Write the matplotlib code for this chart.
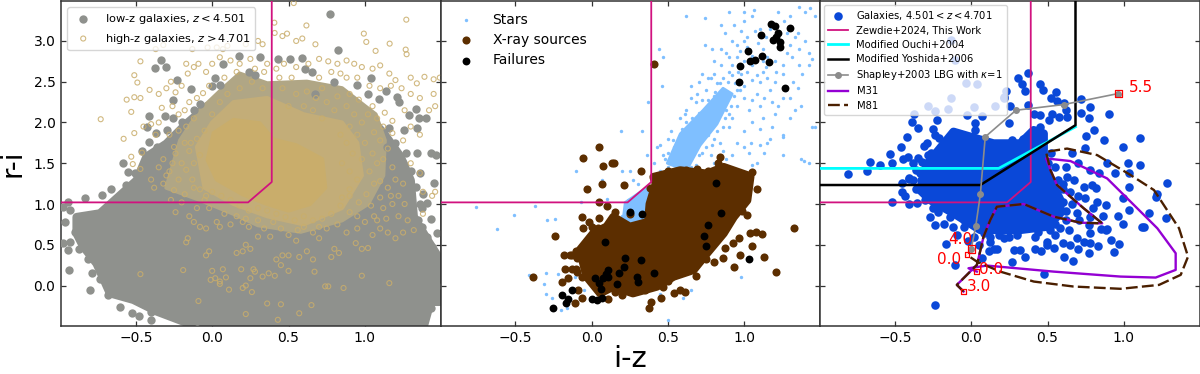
import numpy as np
import matplotlib
matplotlib.use("Agg")
import matplotlib.pyplot as plt

XLIM = (-0.99, 1.495)
YLIM = (-0.49, 3.49)
SEL_X = [-0.99, 0.235, 0.39, 0.39]
SEL_Y = [1.02, 1.02, 1.27, 3.5]

# ---- panel 1: low-z galaxies (dense region envelope + individually read points)
low_env = [(-0.888,0.84),(-0.735,0.885),(-0.637,1.05),(-0.495,1.29),(-0.43,1.58),(-0.30,1.74),(-0.166,1.99),
           (-0.035,2.2),(0.14,2.3),(0.36,2.3),(0.58,2.25),(0.80,2.2),(1.015,2.1),(1.125,1.865),(1.234,1.58),
           (1.30,1.29),(1.32,0.845),(1.41,0.56),(1.495,0.31),(1.495,-0.2),(1.43,-0.2),(1.387,-0.49),(-0.12,-0.49),
           (-0.36,-0.32),(-0.516,-0.175),(-0.67,-0.094),(-0.757,0.27),(-0.845,0.48),(-0.888,0.64)]
low_pts = [(0.77,3.335),(0.823,2.885),(-0.374,2.673),(-0.335,2.77),(-0.30,2.68),(-0.228,2.52),(-0.138,2.41),(-0.254,2.28),
           (-0.08,2.23),(-0.414,2.08),(-0.429,1.947),(-0.368,1.873),(-0.298,1.906),(-0.309,2.08),(-0.254,2.06),(-0.414,1.763),
           (-0.582,1.498),(-0.55,1.396),(-0.505,1.384),(-0.565,1.233),(-0.663,1.184),(-0.724,1.11),(-0.834,1.069),(-0.947,1.029),
           (-0.976,0.967),(-0.932,0.927),(-0.965,0.784),(-0.90,0.661),(-0.932,0.539),(-0.976,0.518),(-0.947,0.437),(-0.871,0.445),
           (-0.937,0.192),(-0.812,0.322),(-0.79,0.159),(-0.735,0.078),(-0.80,-0.053),(-0.68,-0.114),(-0.604,-0.265),(-0.527,-0.339),
           (-0.477,-0.371),(-0.403,-0.33),(-0.403,-0.42),(-0.10,-0.44),(0.173,2.81),(0.31,2.80),(0.43,2.78),(0.51,2.78),(0.59,2.795),
           (0.074,2.72),(0.02,2.54),(0.053,2.457),(-0.002,2.445),(0.238,2.62),(0.282,2.58),(0.61,2.66),(0.654,2.62),(0.676,2.355),
           (0.797,2.498),(0.95,2.457),(1.037,2.54),(1.021,2.355),(1.136,2.388),(1.09,2.294),(1.212,2.314),(1.223,2.253),(1.333,2.171),
           (1.289,2.09),(1.354,2.049),(1.398,2.049),(1.256,1.906),(1.344,1.927),(1.157,1.927),(1.147,1.70),(1.267,1.63),(1.344,1.62),
           (1.431,1.62),(1.464,1.6),(1.361,1.384),(1.453,1.26),(1.333,1.212),(1.383,1.122),(1.409,1.016),(1.372,0.947),(1.431,0.812),
           (1.376,0.722),(1.409,0.6),(1.475,0.64),(1.442,0.478),(1.431,-0.278),(-0.46,1.65),(-0.42,1.55),(-0.36,1.7),(-0.2,2.0),
           (-0.12,2.15),(1.2,1.75),(1.25,1.5),(1.3,1.4),(1.36,1.0),(1.35,0.8),(1.45,0.1),(1.47,0.0),(1.44,0.3)]

# ---- panel 1: high-z galaxies
high_core = [(0.01,1.87),(0.14,2.03),(0.31,1.99),(0.40,1.79),(0.55,1.72),(0.72,1.55),(0.74,1.2),(0.64,1.0),(0.5,0.92),
             (0.36,1.0),(0.20,1.12),(0.03,1.30),(-0.03,1.54)]
high_mid = [(-0.1,1.7),(0.0,2.0),(0.14,2.25),(0.36,2.3),(0.6,2.1),(0.85,2.0),(0.95,1.75),(0.98,1.35),(0.85,0.95),(0.6,0.75),
            (0.36,0.85),(0.14,1.0),(-0.05,1.2)]
high_out = [(-0.21,1.78),(-0.08,2.15),(0.06,2.4),(0.18,2.6),(0.36,2.48),(0.62,2.5),(0.85,2.42),(1.0,2.2),(1.07,2.1),(1.13,1.78),(1.12,1.35),
            (1.02,1.0),(0.85,0.8),(0.58,0.66),(0.3,0.74),(0.14,0.88),(-0.08,1.05),(-0.3,1.2)]
high_pts = [(0.534,3.465),(1.271,3.261),(0.617,3.19),(0.407,3.224),(0.993,3.09),(0.409,3.098),(1.009,2.988),(1.162,2.967),(1.267,2.894),
            (1.273,2.837),(1.07,2.878),(0.676,2.959),(0.59,3.03),(0.55,3.0),(0.46,3.06),(0.49,3.09),(0.3,3.0),(0.33,2.96),(0.22,2.96),
            (0.1,2.94),(0.07,2.9),(0.03,2.92),(-0.03,2.92),(-0.13,2.9),(-0.37,2.9),(-0.32,2.95),(-0.47,2.75),(-0.51,2.58),(-0.49,2.49),
            (-0.41,2.4),(-0.56,2.28),(-0.51,2.31),(-0.47,2.3),(-0.53,2.13),(-0.73,2.04),(-0.35,2.35),(-0.3,2.42),(-0.27,2.5),(-0.24,2.37),
            (-0.2,2.45),(-0.16,2.6),(-0.17,2.72),(-0.12,2.68),(-0.09,2.72),(-0.04,2.62),(0.0,2.72),(0.05,2.8),(0.12,2.76),(0.18,2.72),
            (0.25,2.78),(0.36,2.72),(0.42,2.66),(0.47,2.72),(0.55,2.68),(0.63,2.72),(0.7,2.78),(0.76,2.75),(0.82,2.72),(0.88,2.76),
            (0.93,2.72),(0.98,2.68),(1.05,2.66),(1.1,2.7),(1.16,2.6),(1.2,2.52),(1.3,2.55),(1.39,2.56),(1.34,2.48),(1.45,2.53),(1.49,2.55),
            (1.45,2.35),(1.46,2.2),(1.42,2.15),(1.36,2.3),(1.3,2.35),(1.24,2.42),(1.17,2.45),(1.1,2.42),(1.03,2.45),(0.95,2.55),(0.88,2.55),
            (0.84,2.6),(0.78,2.62),(0.7,2.55),(0.72,2.42),(0.82,2.32),(0.9,2.35),(0.96,2.28),(1.05,2.2),(1.13,2.12),(1.18,2.02),(1.26,2.15),
            (1.3,1.95),(1.36,1.85),(1.25,1.78),(1.18,1.87),(1.12,1.95),(1.08,2.05),(1.02,2.1),(-0.58,1.8),(-0.51,1.87),(-0.46,1.63),
            (-0.53,1.58),(-0.52,1.49),(-0.47,1.43),(-0.45,1.95),(-0.4,1.98),(-0.37,1.85),(-0.35,2.0),(-0.33,2.18),(-0.26,2.2),(-0.22,2.1),
            (-0.18,2.15),(-0.15,2.25),(-0.1,2.3),(-0.06,2.36),(-0.02,2.45),(0.08,2.55),(0.16,2.62),(0.28,2.66),(0.34,2.62),(0.44,2.55),(0.52,2.55),
            (-0.28,1.85),(-0.22,1.9),(-0.17,1.95),(-0.12,2.05),(-0.25,1.7),(-0.32,1.55),(-0.28,1.4),(-0.22,1.3),(-0.2,1.5),(-0.15,1.65),(-0.1,1.8),
            (-0.32,1.25),(-0.25,1.17),(-0.18,1.12),(-0.12,1.2),(-0.05,1.05),(-0.24,0.9),(-0.15,0.85),(-0.12,0.78),(-0.08,0.72),(-0.04,0.7),
            (0.03,0.78),(0.05,0.72),(0.12,0.75),(0.08,0.88),(0.16,0.85),(0.2,0.78),(0.24,0.72),(0.3,0.6),(0.34,0.7),(0.4,0.78),(0.45,0.7),
            (0.38,0.6),(0.5,0.62),(0.55,0.55),(0.6,0.72),(0.66,0.65),(0.7,0.58),(0.75,0.7),(0.82,0.75),(0.88,0.65),(0.95,0.7),(1.0,0.78),
            (1.05,0.62),(1.1,0.7),(1.15,0.65),(1.2,0.58),(1.25,0.65),(1.28,0.8),(1.32,0.68),(1.38,0.88),(1.06,0.85),(1.12,0.95),(1.18,1.0),
            (1.22,1.1),(1.15,1.2),(1.1,1.28),(1.2,1.3),(1.25,1.25),(1.38,1.15),(1.44,1.1),(1.46,1.15),(1.36,1.38),(1.3,1.5),(1.18,1.45),
            (-0.16,0.58),(-0.17,0.53),(-0.02,0.42),(-0.04,0.37),(0.22,0.5),(0.25,0.45),(0.2,0.42),(0.16,0.4),(0.46,0.37),(0.5,0.37),(0.42,0.32),
            (0.57,0.35),(0.62,0.42),(0.66,0.32),(0.8,0.45),(0.83,0.4),(0.78,0.35),(0.94,0.52),(0.98,0.45),(1.02,0.46),(-0.47,0.14),(-0.19,0.19),
            (0.0,0.18),(0.07,0.2),(0.02,0.09),(0.05,0.05),(0.09,0.1),(-0.01,0.07),(0.05,0.02),(0.11,-0.05),(0.19,0.2),(0.25,0.09),(0.28,0.17),
            (0.27,0.2),(0.33,0.11),(0.41,0.12),(0.37,0.15),(0.45,0.25),(0.5,0.18),(0.67,0.17),(0.98,0.12),(1.16,0.03),(0.74,-0.01),(0.76,-0.01),
            (0.86,-0.03),(0.22,0.0),(0.2,-0.03),(0.26,-0.08),(-0.09,-0.19),(0.36,-0.22),(0.45,-0.23),(0.65,-0.24),(0.43,-0.42),(0.22,-0.35),(0.57,-0.34),
            # ring around the dense centre
            (0.9,1.95),(0.95,1.85),(1.0,1.75),(1.05,1.62),(1.08,1.5),(1.03,1.4),(1.06,1.25),(1.01,1.12),(0.96,1.02),(0.9,0.9),(0.84,0.98),(0.78,0.88),
            (0.72,0.82),(0.66,0.8),(0.6,0.85),(0.54,0.8),(0.48,0.84),(0.42,0.88),(0.36,0.92),(0.3,0.95),(0.24,0.92),(0.18,0.98),(0.12,1.05),(0.06,1.1),
            (0.0,1.15),(-0.04,1.1),(-0.08,1.18),(-0.13,1.3),(-0.17,1.42),(-0.12,1.5),(-0.08,1.6),(-0.14,1.75),(-0.05,1.9),(0.0,2.1),(0.05,2.25),(0.1,2.35),
            (0.18,2.42),(0.26,2.5),(0.33,2.42),(0.46,2.42),(0.55,2.35),(0.62,2.38),(0.68,2.3),(0.75,2.25),(0.8,2.15),(0.88,2.2),(0.93,2.1),(0.98,2.0),
            (0.72,2.05),(0.66,2.15),(0.6,2.2),(0.5,2.2),(0.84,1.85),(0.88,1.75),(0.92,1.62),(0.98,1.55),(0.85,1.5),(0.9,1.4),(0.95,1.3),(0.9,1.18),(0.85,1.08),
            (1.12,1.55),(1.15,1.68),(1.1,1.78),(1.06,1.88),(0.9,1.1),(1.04,0.98),(1.1,1.08),(0.95,0.85),(0.7,0.72),(0.56,0.68),(0.3,0.8),(0.22,0.82),(-0.02,0.95),(-0.1,0.95),
            (-0.2,1.02),(-0.27,1.05),(-0.3,1.35),(-0.26,1.5),(-0.24,1.62),(-0.18,1.75),(-0.35,1.45),(-0.4,1.3),(-0.38,1.2),(1.17,1.1),(1.26,1.0),(1.22,0.85),(1.14,0.82),(1.08,0.8)]

# ---- panel 2
star_band = [(0.495,1.5),(0.58,1.86),(0.73,2.15),(0.86,2.42),(0.92,2.35),(0.82,1.98),(0.71,1.72),(0.62,1.41)]
star_low = [(0.2,0.72),(0.22,1.02),(0.36,1.2),(0.42,1.0),(0.4,0.75)]
star_pts = [(-0.76,0.96),(-0.62,0.69),(-0.51,0.86),(-0.37,0.98),(-0.29,0.8),(-0.24,0.82),(-0.41,0.13),(-0.31,0.02),(-0.3,-0.1),(-0.26,-0.15),
            (-0.3,0.15),(-0.22,0.14),(-0.2,-0.1),(-0.07,1.02),(-0.1,1.4),(0.1,1.06),(0.07,1.3),(0.2,1.4),(0.25,1.4),(0.27,1.3),(0.19,1.9),(0.33,1.9),
            (0.43,1.7),(0.45,1.72),(0.37,2.25),(0.47,2.8),(0.44,2.9),(0.46,2.45),(0.5,1.45),(0.45,1.4),(0.36,1.6),(0.41,1.5),(0.47,1.6),(0.54,1.7),
            (0.56,1.75),(0.58,2.05),(0.61,2.1),(0.62,2.0),(0.65,2.3),(0.69,2.35),(0.75,2.4),(0.74,2.15),(0.76,2.55),(0.8,2.6),(0.85,2.7),(0.86,2.55),
            (0.82,2.48),(0.9,2.62),(0.92,2.7),(0.95,2.8),(0.98,2.5),(1.0,2.45),(1.02,2.62),(1.05,2.7),(1.08,2.58),(1.1,2.5),(1.12,2.62),(1.15,2.55),
            (1.17,2.4),(1.2,2.5),(1.25,2.6),(1.32,2.5),(1.35,2.42),(1.3,2.3),(1.37,2.2),(1.22,2.2),(1.18,2.25),(1.1,2.2),(1.05,2.28),(1.0,2.3),
            (0.95,2.2),(0.92,2.05),(0.9,1.95),(1.0,1.9),(1.05,2.0),(1.12,2.05),(1.18,1.95),(1.25,1.85),(1.3,2.05),(1.25,1.82),(1.44,1.95),(1.46,1.95),
            (0.95,1.75),(1.0,1.7),(0.92,1.6),(1.1,1.72),(1.17,1.8),(1.08,1.5),(1.13,1.62),(1.25,1.6),(1.37,1.55),(1.39,1.53),(1.42,1.5),(0.88,1.55),
            (0.78,1.6),(0.84,1.75),(0.76,1.85),(0.68,2.0),(0.6,1.4),(0.65,2.45),(0.72,2.6),(0.79,2.9),(0.87,3.1),(0.74,3.28),(0.62,3.3),(0.74,2.95),
            (0.85,3.2),(0.93,3.2),(0.98,3.12),(1.0,3.25),(1.02,3.05),(1.05,3.3),(1.0,3.35),(1.1,3.15),(1.14,3.05),(1.12,2.9),(1.17,3.15),(1.28,3.1),
            (1.33,3.05),(1.4,3.0),(1.42,2.85),(1.36,2.9),(1.31,2.8),(1.36,2.7),(1.42,2.7),(1.44,2.78),(1.3,3.3),(1.36,3.42),(1.4,3.35),(1.43,3.4),(1.46,3.3),
            (1.26,3.25),(1.22,3.35),(1.06,3.38),(0.9,3.35),(1.09,2.98),(1.02,2.92),(0.95,2.95),(0.88,2.85),(0.8,2.75),(0.9,2.8),(0.85,2.9),(0.97,2.88),
            (1.0,2.75),(1.05,2.82),(1.15,2.8),(1.2,2.75),(1.25,2.7),(1.12,2.75),(0.7,2.5),(0.78,2.55),(0.82,2.25),(0.85,2.2),(0.95,2.4),(0.98,2.6),
            (0.5,1.8),(0.52,1.9),(0.55,1.6),(0.6,1.85),(0.63,1.95),(0.68,2.25),(0.72,2.28),(0.7,1.6),(0.75,1.7),(0.8,1.8),(0.82,2.05),(0.88,2.15),
            (0.3,1.25),(0.3,1.1),(0.34,1.15),(0.24,1.05),(0.22,0.95),(0.2,0.85),(0.27,0.95),(0.42,1.1),(0.0,0.75),(0.05,0.6),(0.1,0.62),(0.14,0.65),
            (-0.13,0.2),(-0.11,0.1),(-0.05,-0.05),(0.0,0.15),(0.06,0.2),(0.45,-0.1),(0.5,-0.42),(0.98,0.11),(0.65,-0.05),(0.6,-0.15),(-0.2,-0.3),(-0.16,-0.28),
            # fuzz along the stellar locus
            (0.48,1.55),(0.52,1.55),(0.53,1.78),(0.57,1.68),(0.59,1.92),(0.64,1.55),(0.66,1.62),(0.67,1.75),(0.66,2.05),(0.7,2.12),(0.71,2.05),(0.74,1.85),(0.77,1.92),
            (0.78,2.22),(0.76,2.28),(0.8,2.32),(0.81,2.38),(0.84,2.1),(0.87,2.05),(0.9,2.1),(0.91,2.2),(0.93,2.32),(0.94,2.48),(0.89,2.5),(0.84,2.48),(0.92,2.58),(0.97,2.4),
            (0.86,1.95),(0.82,1.9),(0.79,1.72),(0.72,1.62),(0.68,1.48),(0.65,1.46),(0.58,1.52),(0.6,1.62),(0.5,1.62),(0.62,2.15),(0.86,1.65),(0.8,1.5),(1.05,1.48),(1.03,1.62),
            (1.04,1.75),(1.1,1.92),(1.15,1.75),(1.2,2.1),(1.03,2.15),(1.08,2.35),(1.13,2.3),(1.27,2.4),(1.25,2.3),(1.33,2.15),(1.38,2.6),(1.05,2.52),(1.14,2.68),(1.21,2.62),(1.28,2.85),
            (1.35,3.1),(1.3,2.95),(1.07,3.12),(1.0,3.0),(0.92,3.0),(0.96,2.62)]
xray_env = [(-0.077,0.437),(0.011,0.641),(0.098,0.722),(0.142,0.841),(0.25,0.72),(0.37,0.78),(0.38,1.0),(0.42,1.25),(0.405,1.331),(0.58,1.412),(0.755,1.371),
            (0.864,1.453),(1.039,1.339),(1.018,1.045),(0.93,0.841),(0.864,0.641),(0.755,0.396),(0.667,0.192),(0.536,0.11),(0.427,-0.012),(0.27,-0.094),
            (0.142,-0.012),(0.055,-0.094),(-0.033,0.11),(-0.055,0.273)]
xray_pts = [(0.411,2.722),(0.046,1.694),(-0.055,1.563),(0.072,1.465),(0.131,1.498),(0.147,1.498),(0.324,1.4),(0.07,1.241),(-0.031,1.184),(0.21,1.233),
            (0.05,1.029),(0.098,0.98),(-0.066,0.841),(-0.018,0.784),(0.046,0.824),(-0.055,0.702),(0.0,0.722),(-0.241,0.612),(-0.387,0.102),(1.324,0.71),
            (0.842,1.58),(0.825,1.498),(1.053,1.388),(1.085,1.18),(0.985,0.918),(1.018,0.865),(1.039,0.641),(1.077,0.661),(1.116,0.633),(0.963,0.588),
            (0.923,0.527),(1.053,0.49),(0.974,0.376),(1.127,0.347),(0.86,0.335),(0.799,0.286),(0.93,0.233),(1.204,0.171),(0.875,0.457),(-0.181,0.375),
            (-0.131,0.375),(-0.098,0.335),(-0.175,0.2),(-0.131,0.2),(-0.098,0.171),(-0.197,0.049),(-0.153,0.09),(-0.066,0.11),(-0.088,-0.053),(-0.066,-0.155),
            (-0.109,-0.216),(0.109,-0.163),(0.197,-0.114),(0.269,-0.073),(0.376,-0.278),(0.387,-0.196),(0.455,-0.147),(0.536,-0.094),(0.575,-0.053),(0.613,-0.082),
            (0.47,-0.012),(0.62,1.42),(0.5,1.4),(0.69,1.43),(0.76,1.4),(0.96,1.36),(0.98,1.25),(1.0,1.12),(0.88,0.72),(0.75,0.33),(0.7,0.3),(0.62,0.22),(0.5,0.05),
            (0.38,0.05),(0.3,-0.02),(0.2,0.02),(0.43,1.25),(0.38,1.2),(0.0,0.55),(0.05,0.4),(-0.02,0.35),(-0.03,0.2),(0.12,0.72),(0.15,0.9),(0.25,0.88),
            (0.92,1.18),(0.88,0.95),(0.8,0.72),(0.72,0.55),(0.6,0.33),(0.68,0.12),(0.58,0.15),(0.45,0.02),(0.35,-0.06),(0.15,-0.08),(0.08,-0.02),(0.02,0.02),
            (-0.1,0.42),(-0.14,0.38),(-0.06,0.33),(-0.1,0.2),(-0.01,0.1),(0.02,0.62),(0.08,0.65),(0.04,0.7),(1.0,1.25),(1.02,1.18),(0.95,1.05),(0.9,1.0),(0.82,0.82)]
fail_pts = [(1.171,3.212),(1.199,3.18),(1.298,3.163),(1.111,3.073),(1.221,3.102),(1.21,3.049),(1.188,3.008),(1.236,2.988),(1.23,2.927),(1.026,2.882),
            (1.116,2.812),(1.039,2.751),(1.072,2.763),(1.16,2.739),(0.974,2.698),(0.967,2.498),(1.267,2.425),(0.812,1.253),(0.251,0.898),(0.33,0.878),
            (0.845,0.886),(0.759,0.743),(0.733,0.612),(0.748,0.486),(0.088,0.539),(0.221,0.335),(0.324,0.314),(1.033,0.322),(0.21,0.233),(0.18,0.151),
            (0.11,0.192),(0.094,0.143),(0.11,0.102),(0.022,0.09),(0.077,0.09),(0.05,0.029),(0.061,-0.045),(0.164,0.02),(0.295,0.102),(0.306,0.049),
            (0.405,0.151),(-0.131,-0.053),(-0.193,-0.122),(-0.153,-0.163),(-0.171,-0.208),(-0.252,-0.278),(0.0,-0.163),(0.033,-0.176),(0.066,-0.147)]

# ---- panel 3
gal_env = [(-0.291,1.486),(-0.116,1.886),(0.146,1.743),(0.321,1.743),(0.409,1.906),(0.475,1.865),(0.475,1.547),(0.519,1.294),(0.584,1.049),(0.584,0.886),
           (0.497,0.722),(0.322,0.682),(0.059,0.682),(-0.116,0.886),(-0.269,1.049),(-0.335,1.171)]
gal_pts = [(0.37,2.612),(0.304,2.547),(0.333,2.478),(0.449,2.478),(0.471,2.404),(0.354,2.388),(0.558,2.38),(0.228,2.388),(0.217,2.306),(0.525,2.298),
           (0.562,2.265),(0.72,2.294),(0.606,2.233),(0.37,2.22),(0.256,2.208),(0.781,2.192),(0.624,2.159),(0.72,2.118),(0.902,2.098),(0.53,2.098),(0.453,2.09),
           (0.409,2.11),(0.573,2.069),(0.628,2.069),(0.508,2.029),(0.77,2.049),(0.245,1.996),(-0.028,2.09),(0.07,2.082),(-0.374,2.102),(-0.225,2.029),(-0.39,2.008),
           (0.026,1.996),(-0.346,1.927),(-0.252,1.914),(-0.236,1.845),(-0.214,1.804),(-0.418,1.824),(0.026,1.906),(0.803,1.906),(0.755,1.837),(0.869,1.784),
           (1.105,1.804),(0.996,1.702),(-0.291,1.743),(-0.46,1.694),(-0.532,1.608),(-0.31,1.71),(-0.663,1.514),(-0.597,1.478),(-0.521,1.506),(-0.685,1.408),
           (-0.411,1.571),(-0.444,1.547),(-0.383,1.498),(-0.35,1.559),(-0.805,1.363),(-0.405,1.314),(-0.335,1.376),(0.89,1.498),(1.026,1.506),(1.105,1.478),
           (0.939,1.384),(1.033,1.376),(0.748,1.682),(1.284,1.253),(1.217,1.122),(1.208,1.09),(1.164,0.886),(1.274,0.824),(1.131,0.722),(1.12,0.714),(1.033,0.927),
           (0.996,1.069),(1.033,1.212),(0.963,0.857),(0.993,0.755),(0.967,0.51),(0.934,0.416),(0.917,0.559),(0.886,0.682),(0.77,0.396),(0.829,0.486),(0.781,0.518),
           (0.667,0.306),(0.606,0.355),(0.475,0.139),(0.267,0.286),(0.074,0.335),(-0.105,0.253),(-0.236,-0.233),(0.168,0.449),(0.114,0.424),(-0.164,0.51),(-0.236,0.743),
           (-0.18,0.755),(-0.094,0.62),(-0.516,1.02),(-0.41,0.996),(-0.357,1.016),(-0.269,0.845),(-0.455,1.253),(-0.405,1.302),(-0.45,1.151),(-0.433,1.098),
           (-0.133,3.008),(-0.109,2.763),(-0.037,2.486),(0.037,2.469),(-0.133,2.306),(-0.28,2.2),(-0.236,2.143),(-0.149,2.171),(0.02,2.184),(0.158,2.208),(0.214,2.31),
           (0.628,1.334),(0.672,1.294),(0.737,1.212),(0.792,1.233),(0.748,1.069),(0.825,1.029),(0.88,0.988),(0.694,0.886),(0.705,0.804),(0.781,0.845),(0.77,0.743),
           (0.781,0.649),(0.847,0.69),(0.89,0.69),(0.639,0.682),(0.584,0.702),(0.519,0.682),(0.42,0.6),(0.497,0.539),(0.54,0.457),(0.65,0.498),(0.694,0.584),(0.737,0.539),
           (0.497,0.498),(0.322,0.437),(0.278,0.437),(0.354,0.355),(0.212,0.58),(0.125,0.539),(0.081,0.641),(0.4,0.75),(0.3,0.62),(0.25,0.6),(0.62,0.8),(0.66,1.0),(0.7,1.1),
           (0.65,1.15),(0.6,1.25),(0.82,1.2),(0.86,0.85),(0.8,0.95),(-0.2,1.0),(-0.25,0.95),(-0.3,1.05),(-0.28,1.2),(-0.33,1.3),(-0.22,1.5),(-0.15,1.6),(-0.28,1.6),(-0.2,1.7),
           (0.0,1.75),(0.03,1.8),(0.05,1.7),(0.1,1.75),(0.4,1.7),(0.45,1.75),(0.45,1.95),(0.38,1.85),(0.5,1.5),(0.55,1.45),(0.57,1.3),(0.62,1.45),(-0.12,0.72),(-0.05,0.72),
           (0.02,0.6),(0.05,0.5),(-0.02,0.55),(0.12,0.6),(0.18,0.62),(0.15,0.45),(0.42,0.45),(0.46,0.42),(0.6,0.52),(0.7,0.45),(0.55,0.62),
           # edge of the dense core
           (-0.36,1.42),(-0.32,1.52),(-0.26,1.62),(-0.16,1.78),(-0.08,1.84),(0.0,1.82),(0.08,1.72),(0.2,1.72),(0.27,1.78),(0.34,1.8),(0.52,1.62),(0.6,1.18),(0.6,1.02),
           (0.62,0.92),(0.55,0.76),(0.44,0.66),(0.3,0.66),(0.2,0.68),(0.1,0.66),(-0.05,0.8),(-0.14,0.84),(-0.22,0.9),(-0.36,1.18),(-0.38,1.3),(0.66,1.62),(0.7,1.5),(0.78,1.42),(0.84,1.38)]
cyan_x = [-0.99, 0.18, 0.683]
cyan_y = [1.437, 1.437, 1.947]
black_x = [-0.99, 0.06, 0.683, 0.683]
black_y = [1.233, 1.233, 1.967, 3.5]
lbg_x = [0.0, 0.03, 0.06, 0.092, 0.293, 0.606, 0.963]
lbg_y = [0.449, 0.73, 1.118, 1.824, 2.15, 2.22, 2.355]
m31_x = [-0.05,-0.094,0.037,0.048,0.081,0.125,0.168,0.344,0.54,0.716,0.858,0.737,0.562,0.519,0.49,0.65,0.89,1.022,1.219,1.339,1.339,1.208,0.978,0.54,0.103,-0.018,0.037]
m31_y = [-0.073,0.008,0.253,0.335,0.60,0.804,0.967,1.0,0.845,0.771,0.763,0.947,1.233,1.416,1.559,1.527,1.314,1.069,0.702,0.396,0.192,0.098,0.11,0.171,0.245,0.212,0.171]
m81_x = [-0.05,-0.094,0.037,0.048,0.081,0.125,0.168,0.344,0.54,0.716,0.858,0.737,0.562,0.519,0.49,0.628,0.825,1.044,1.197,1.361,1.42,1.372,1.23,0.978,0.67,0.41,0.19,0.037,-0.028]
m81_y = [-0.073,0.008,0.253,0.335,0.60,0.804,0.967,1.0,0.845,0.771,0.763,0.947,1.233,1.416,1.64,1.68,1.6,1.355,1.171,0.702,0.355,0.131,0.008,-0.04,-0.012,0.049,0.171,0.294,0.376]
small_sq_x = [0.037, -0.05, -0.028]
small_sq_y = [0.171, -0.073, 0.376]
big_sq_x = [0.0, 0.963]
big_sq_y = [0.449, 2.355]
red_labels = ["5.5", "4.0", "0.0", "0.0", "3.0"]
red_label_x = [1.033, -0.153, -0.225, 0.048, -0.028]
red_label_y = [2.43, 0.567, 0.322, 0.2, -0.012]

PINK = "#d1127f"
GREY = "#8f918d"
TAN = "#c9ad6b"
MIX = "#c3ad78"
MIX2 = "#b0a685"
BLUE = "#0a48d8"
BROWN = "#5c2e00"
STAR = "#7fbfff"

plt.rcParams["font.family"] = "DejaVu Sans"
plt.rcParams["mathtext.fontset"] = "dejavusans"
fig = plt.figure(figsize=(12, 3.74), dpi=100)
L = [61/1200, 440.5/1200, 820/1200]
W = 379.5/1200
B = (374-325.5)/374
H = 324.5/374
axes = [fig.add_axes([l, B, W, H]) for l in L]

def xy(p):
    a = np.array(p)
    return a[:, 0], a[:, 1]

for ax in axes:
    ax.set_xlim(*XLIM)
    ax.set_ylim(*YLIM)
    ax.set_xticks([-0.5, 0, 0.5, 1.0])
    ax.set_xticklabels(["\u22120.5", "0.0", "0.5", "1.0"])
    ax.set_yticks([0, 0.5, 1, 1.5, 2, 2.5, 3])
    ax.tick_params(direction="in", top=True, right=True, length=3.5, width=0.9, labelsize=10, color="#333333", pad=4)
    for s in ax.spines.values():
        s.set_linewidth(1.1)
        s.set_color("#333333")
for ax in axes[1:]:
    ax.tick_params(labelleft=False)

# panel 1
a = axes[0]
a.fill(*xy(low_env), color=GREY, lw=6, joinstyle="round", zorder=2)
a.fill(*xy(high_out), color=MIX2, lw=3, joinstyle="round", zorder=2.5)
a.scatter(*xy(low_pts), s=36, color=GREY, lw=0, zorder=3, label=r"low-z galaxies, $z < 4.501$")
a.fill(*xy(high_mid), color=MIX, lw=3, joinstyle="round", zorder=3)
a.fill(*xy(high_core), color=TAN, lw=3, joinstyle="round", zorder=3)
a.scatter(*xy(high_pts), s=13, facecolors="none", edgecolors=TAN, linewidths=0.8, alpha=0.85, zorder=4, label=r"high-z galaxies, $z > 4.701$")
a.plot(SEL_X, SEL_Y, color=PINK, lw=1.3, zorder=5)
a.legend(loc="upper left", fontsize=8.2, borderaxespad=0.55, handletextpad=0.9, labelspacing=0.5, framealpha=0.8).set_zorder(10)
a.set_ylabel("r-i", fontsize=20, labelpad=5)

# panel 2
a = axes[1]
a.fill(*xy(star_band), color=STAR, lw=2, joinstyle="round", zorder=2)
a.fill(*xy(star_low), color=STAR, lw=2, joinstyle="round", zorder=2)
a.scatter(*xy(star_pts), s=6, color=STAR, lw=0, zorder=2, label="Stars")
a.fill(*xy(xray_env), color=BROWN, lw=6, joinstyle="round", zorder=3)
a.scatter(*xy(xray_pts), s=34, color=BROWN, lw=0, zorder=3, label="X-ray sources")
a.scatter(*xy(fail_pts), s=32, color="black", lw=0, zorder=4, label="Failures")
a.plot(SEL_X, SEL_Y, color=PINK, lw=1.3, zorder=5)
a.legend(loc="upper left", fontsize=10, frameon=False, borderaxespad=0.45, handletextpad=0.9, labelspacing=0.45)
a.set_xlabel("i-z", fontsize=21, labelpad=0)

# panel 3
a = axes[2]
a.fill(*xy(gal_env), color=BLUE, lw=6, joinstyle="round", zorder=2)
a.scatter(*xy(gal_pts), s=38, color=BLUE, lw=0, zorder=2, label=r"Galaxies, $4.501 < z < 4.701$")
a.plot(SEL_X, SEL_Y, color=PINK, lw=1.3, zorder=3, label="Zewdie+2024, This Work")
a.plot(cyan_x, cyan_y, color="cyan", lw=2, zorder=3, label="Modified Ouchi+2004")
a.plot(black_x, black_y, color="black", lw=1.8, zorder=3, label="Modified Yoshida+2006")
a.plot(lbg_x, lbg_y, color="#8c8c8c", lw=1.2, marker="o", ms=4, zorder=5, label=r"Shapley+2003 LBG with $\kappa$=1")
a.plot(m31_x, m31_y, color="#9400d3", lw=1.7, zorder=4, label="M31")
a.plot(m81_x, m81_y, color="#4a1f00", lw=1.7, ls=(0, (5, 1.8)), zorder=4, label="M81")
a.scatter(small_sq_x, small_sq_y, marker="s", s=12, facecolors="none", edgecolors="red", lw=0.9, zorder=6)
a.scatter(big_sq_x, big_sq_y, marker="s", s=28, facecolors="none", edgecolors="red", lw=0.9, zorder=6)
for t, x, y in zip(red_labels, red_label_x, red_label_y):
    a.text(x, y, t, color="red", fontsize=11, va="center", ha="left", zorder=7)
a.legend(loc="upper left", fontsize=7.2, borderaxespad=0.35, handletextpad=0.9, labelspacing=0.42, framealpha=0.8).set_zorder(10)

fig.savefig("out.png", dpi=100)
